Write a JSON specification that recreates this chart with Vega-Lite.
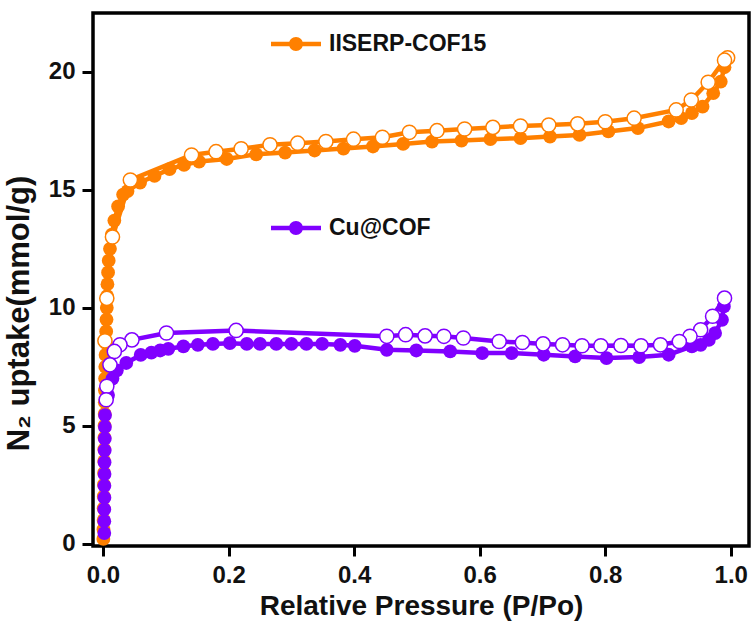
{
  "$schema": "https://vega.github.io/schema/vega-lite/v6.json",
  "width": 656,
  "height": 533,
  "autosize": {"type": "none"},
  "padding": {"left": 93, "top": 13, "right": 5, "bottom": 83},
  "background": "white",
  "config": {
    "font": "Liberation Sans",
    "view": {"stroke": "#000", "strokeWidth": 3.5},
    "axis": {
      "domain": false,
      "grid": false,
      "tickColor": "#000",
      "tickWidth": 3,
      "labelFont": "Liberation Sans",
      "labelFontWeight": "bold",
      "labelFontSize": 24,
      "labelColor": "#111",
      "titleFont": "Liberation Sans",
      "titleFontWeight": "bold",
      "titleColor": "#111"
    }
  },
  "data": {
    "values": [
      {"s":"IISERP-COF15","b":"ads","i":1,"x":0.0005,"y":0.2},
      {"s":"IISERP-COF15","b":"ads","i":2,"x":0.0007,"y":0.6},
      {"s":"IISERP-COF15","b":"ads","i":3,"x":0.0009,"y":1.0},
      {"s":"IISERP-COF15","b":"ads","i":4,"x":0.001,"y":1.5},
      {"s":"IISERP-COF15","b":"ads","i":5,"x":0.0012,"y":2.0},
      {"s":"IISERP-COF15","b":"ads","i":6,"x":0.0014,"y":2.5},
      {"s":"IISERP-COF15","b":"ads","i":7,"x":0.0016,"y":3.0},
      {"s":"IISERP-COF15","b":"ads","i":8,"x":0.0018,"y":3.5},
      {"s":"IISERP-COF15","b":"ads","i":9,"x":0.002,"y":4.0},
      {"s":"IISERP-COF15","b":"ads","i":10,"x":0.0022,"y":4.5},
      {"s":"IISERP-COF15","b":"ads","i":11,"x":0.0024,"y":5.0},
      {"s":"IISERP-COF15","b":"ads","i":12,"x":0.0026,"y":5.5},
      {"s":"IISERP-COF15","b":"ads","i":13,"x":0.0028,"y":6.0},
      {"s":"IISERP-COF15","b":"ads","i":14,"x":0.003,"y":6.5},
      {"s":"IISERP-COF15","b":"ads","i":15,"x":0.0033,"y":7.0},
      {"s":"IISERP-COF15","b":"ads","i":16,"x":0.0036,"y":7.5},
      {"s":"IISERP-COF15","b":"ads","i":17,"x":0.004,"y":8.0},
      {"s":"IISERP-COF15","b":"ads","i":18,"x":0.0045,"y":8.5},
      {"s":"IISERP-COF15","b":"ads","i":19,"x":0.005,"y":9.0},
      {"s":"IISERP-COF15","b":"ads","i":20,"x":0.0055,"y":9.5},
      {"s":"IISERP-COF15","b":"ads","i":21,"x":0.006,"y":10.0},
      {"s":"IISERP-COF15","b":"ads","i":22,"x":0.0065,"y":10.5},
      {"s":"IISERP-COF15","b":"ads","i":23,"x":0.007,"y":11.0},
      {"s":"IISERP-COF15","b":"ads","i":24,"x":0.008,"y":11.5},
      {"s":"IISERP-COF15","b":"ads","i":25,"x":0.009,"y":12.0},
      {"s":"IISERP-COF15","b":"ads","i":26,"x":0.011,"y":12.5},
      {"s":"IISERP-COF15","b":"ads","i":27,"x":0.014,"y":13.1},
      {"s":"IISERP-COF15","b":"ads","i":28,"x":0.018,"y":13.7},
      {"s":"IISERP-COF15","b":"ads","i":29,"x":0.024,"y":14.3},
      {"s":"IISERP-COF15","b":"ads","i":30,"x":0.032,"y":14.8},
      {"s":"IISERP-COF15","b":"ads","i":31,"x":0.039,"y":14.95},
      {"s":"IISERP-COF15","b":"ads","i":32,"x":0.059,"y":15.31},
      {"s":"IISERP-COF15","b":"ads","i":33,"x":0.082,"y":15.59},
      {"s":"IISERP-COF15","b":"ads","i":34,"x":0.106,"y":15.88},
      {"s":"IISERP-COF15","b":"ads","i":35,"x":0.129,"y":16.06},
      {"s":"IISERP-COF15","b":"ads","i":36,"x":0.153,"y":16.2},
      {"s":"IISERP-COF15","b":"ads","i":37,"x":0.197,"y":16.31},
      {"s":"IISERP-COF15","b":"ads","i":38,"x":0.244,"y":16.51},
      {"s":"IISERP-COF15","b":"ads","i":39,"x":0.29,"y":16.58},
      {"s":"IISERP-COF15","b":"ads","i":40,"x":0.337,"y":16.67},
      {"s":"IISERP-COF15","b":"ads","i":41,"x":0.383,"y":16.75},
      {"s":"IISERP-COF15","b":"ads","i":42,"x":0.43,"y":16.84},
      {"s":"IISERP-COF15","b":"ads","i":43,"x":0.478,"y":16.95},
      {"s":"IISERP-COF15","b":"ads","i":44,"x":0.524,"y":17.05},
      {"s":"IISERP-COF15","b":"ads","i":45,"x":0.571,"y":17.09},
      {"s":"IISERP-COF15","b":"ads","i":46,"x":0.617,"y":17.15},
      {"s":"IISERP-COF15","b":"ads","i":47,"x":0.665,"y":17.19},
      {"s":"IISERP-COF15","b":"ads","i":48,"x":0.712,"y":17.26},
      {"s":"IISERP-COF15","b":"ads","i":49,"x":0.759,"y":17.33},
      {"s":"IISERP-COF15","b":"ads","i":50,"x":0.805,"y":17.48},
      {"s":"IISERP-COF15","b":"ads","i":51,"x":0.852,"y":17.62},
      {"s":"IISERP-COF15","b":"ads","i":52,"x":0.901,"y":17.9},
      {"s":"IISERP-COF15","b":"ads","i":53,"x":0.921,"y":18.04},
      {"s":"IISERP-COF15","b":"ads","i":54,"x":0.938,"y":18.25},
      {"s":"IISERP-COF15","b":"ads","i":55,"x":0.955,"y":18.53},
      {"s":"IISERP-COF15","b":"ads","i":56,"x":0.972,"y":19.1},
      {"s":"IISERP-COF15","b":"ads","i":57,"x":0.984,"y":19.59},
      {"s":"IISERP-COF15","b":"ads","i":58,"x":0.99,"y":20.2},
      {"s":"IISERP-COF15","b":"des","i":1,"x":0.995,"y":20.6},
      {"s":"IISERP-COF15","b":"des","i":2,"x":0.99,"y":20.5},
      {"s":"IISERP-COF15","b":"des","i":3,"x":0.964,"y":19.56},
      {"s":"IISERP-COF15","b":"des","i":4,"x":0.937,"y":18.81},
      {"s":"IISERP-COF15","b":"des","i":5,"x":0.913,"y":18.39},
      {"s":"IISERP-COF15","b":"des","i":6,"x":0.846,"y":18.04},
      {"s":"IISERP-COF15","b":"des","i":7,"x":0.8,"y":17.89},
      {"s":"IISERP-COF15","b":"des","i":8,"x":0.756,"y":17.8},
      {"s":"IISERP-COF15","b":"des","i":9,"x":0.71,"y":17.75},
      {"s":"IISERP-COF15","b":"des","i":10,"x":0.665,"y":17.71},
      {"s":"IISERP-COF15","b":"des","i":11,"x":0.621,"y":17.65},
      {"s":"IISERP-COF15","b":"des","i":12,"x":0.576,"y":17.58},
      {"s":"IISERP-COF15","b":"des","i":13,"x":0.532,"y":17.51},
      {"s":"IISERP-COF15","b":"des","i":14,"x":0.488,"y":17.44},
      {"s":"IISERP-COF15","b":"des","i":15,"x":0.445,"y":17.23},
      {"s":"IISERP-COF15","b":"des","i":16,"x":0.399,"y":17.15},
      {"s":"IISERP-COF15","b":"des","i":17,"x":0.355,"y":17.05},
      {"s":"IISERP-COF15","b":"des","i":18,"x":0.31,"y":16.98},
      {"s":"IISERP-COF15","b":"des","i":19,"x":0.266,"y":16.91},
      {"s":"IISERP-COF15","b":"des","i":20,"x":0.22,"y":16.74},
      {"s":"IISERP-COF15","b":"des","i":21,"x":0.18,"y":16.62},
      {"s":"IISERP-COF15","b":"des","i":22,"x":0.141,"y":16.48},
      {"s":"IISERP-COF15","b":"des","i":23,"x":0.0435,"y":15.42},
      {"s":"IISERP-COF15","b":"des","i":24,"x":0.015,"y":13.0},
      {"s":"IISERP-COF15","b":"des","i":25,"x":0.006,"y":10.4},
      {"s":"IISERP-COF15","b":"des","i":26,"x":0.003,"y":8.6},
      {"s":"Cu@COF","b":"ads","i":1,"x":0.002,"y":0.45},
      {"s":"Cu@COF","b":"ads","i":2,"x":0.002,"y":0.95},
      {"s":"Cu@COF","b":"ads","i":3,"x":0.002,"y":1.45},
      {"s":"Cu@COF","b":"ads","i":4,"x":0.0022,"y":1.95},
      {"s":"Cu@COF","b":"ads","i":5,"x":0.0022,"y":2.45},
      {"s":"Cu@COF","b":"ads","i":6,"x":0.0024,"y":2.95},
      {"s":"Cu@COF","b":"ads","i":7,"x":0.0024,"y":3.45},
      {"s":"Cu@COF","b":"ads","i":8,"x":0.0026,"y":3.95},
      {"s":"Cu@COF","b":"ads","i":9,"x":0.0028,"y":4.45},
      {"s":"Cu@COF","b":"ads","i":10,"x":0.003,"y":4.95},
      {"s":"Cu@COF","b":"ads","i":11,"x":0.0032,"y":5.45},
      {"s":"Cu@COF","b":"ads","i":12,"x":0.008,"y":6.3},
      {"s":"Cu@COF","b":"ads","i":13,"x":0.015,"y":7.0},
      {"s":"Cu@COF","b":"ads","i":14,"x":0.022,"y":7.35},
      {"s":"Cu@COF","b":"ads","i":15,"x":0.037,"y":7.66},
      {"s":"Cu@COF","b":"ads","i":16,"x":0.06,"y":8.0},
      {"s":"Cu@COF","b":"ads","i":17,"x":0.077,"y":8.1},
      {"s":"Cu@COF","b":"ads","i":18,"x":0.091,"y":8.19},
      {"s":"Cu@COF","b":"ads","i":19,"x":0.104,"y":8.26},
      {"s":"Cu@COF","b":"ads","i":20,"x":0.128,"y":8.36},
      {"s":"Cu@COF","b":"ads","i":21,"x":0.151,"y":8.43},
      {"s":"Cu@COF","b":"ads","i":22,"x":0.175,"y":8.47},
      {"s":"Cu@COF","b":"ads","i":23,"x":0.202,"y":8.5},
      {"s":"Cu@COF","b":"ads","i":24,"x":0.229,"y":8.47},
      {"s":"Cu@COF","b":"ads","i":25,"x":0.25,"y":8.47},
      {"s":"Cu@COF","b":"ads","i":26,"x":0.276,"y":8.47},
      {"s":"Cu@COF","b":"ads","i":27,"x":0.3,"y":8.47},
      {"s":"Cu@COF","b":"ads","i":28,"x":0.324,"y":8.47},
      {"s":"Cu@COF","b":"ads","i":29,"x":0.349,"y":8.47},
      {"s":"Cu@COF","b":"ads","i":30,"x":0.378,"y":8.43},
      {"s":"Cu@COF","b":"ads","i":31,"x":0.401,"y":8.39},
      {"s":"Cu@COF","b":"ads","i":32,"x":0.452,"y":8.22},
      {"s":"Cu@COF","b":"ads","i":33,"x":0.499,"y":8.19},
      {"s":"Cu@COF","b":"ads","i":34,"x":0.553,"y":8.15},
      {"s":"Cu@COF","b":"ads","i":35,"x":0.604,"y":8.08},
      {"s":"Cu@COF","b":"ads","i":36,"x":0.651,"y":8.08},
      {"s":"Cu@COF","b":"ads","i":37,"x":0.702,"y":8.01},
      {"s":"Cu@COF","b":"ads","i":38,"x":0.752,"y":7.94},
      {"s":"Cu@COF","b":"ads","i":39,"x":0.802,"y":7.87},
      {"s":"Cu@COF","b":"ads","i":40,"x":0.854,"y":7.91},
      {"s":"Cu@COF","b":"ads","i":41,"x":0.901,"y":8.01},
      {"s":"Cu@COF","b":"ads","i":42,"x":0.938,"y":8.36},
      {"s":"Cu@COF","b":"ads","i":43,"x":0.952,"y":8.43},
      {"s":"Cu@COF","b":"ads","i":44,"x":0.965,"y":8.64},
      {"s":"Cu@COF","b":"ads","i":45,"x":0.975,"y":8.93},
      {"s":"Cu@COF","b":"ads","i":46,"x":0.986,"y":9.49},
      {"s":"Cu@COF","b":"ads","i":47,"x":0.989,"y":10.06},
      {"s":"Cu@COF","b":"des","i":1,"x":0.99,"y":10.41},
      {"s":"Cu@COF","b":"des","i":2,"x":0.971,"y":9.64},
      {"s":"Cu@COF","b":"des","i":3,"x":0.952,"y":9.07},
      {"s":"Cu@COF","b":"des","i":4,"x":0.935,"y":8.79},
      {"s":"Cu@COF","b":"des","i":5,"x":0.918,"y":8.57},
      {"s":"Cu@COF","b":"des","i":6,"x":0.888,"y":8.43},
      {"s":"Cu@COF","b":"des","i":7,"x":0.857,"y":8.39},
      {"s":"Cu@COF","b":"des","i":8,"x":0.825,"y":8.4},
      {"s":"Cu@COF","b":"des","i":9,"x":0.793,"y":8.39},
      {"s":"Cu@COF","b":"des","i":10,"x":0.763,"y":8.39},
      {"s":"Cu@COF","b":"des","i":11,"x":0.732,"y":8.43},
      {"s":"Cu@COF","b":"des","i":12,"x":0.701,"y":8.47},
      {"s":"Cu@COF","b":"des","i":13,"x":0.668,"y":8.53},
      {"s":"Cu@COF","b":"des","i":14,"x":0.631,"y":8.57},
      {"s":"Cu@COF","b":"des","i":15,"x":0.574,"y":8.72},
      {"s":"Cu@COF","b":"des","i":16,"x":0.543,"y":8.79},
      {"s":"Cu@COF","b":"des","i":17,"x":0.513,"y":8.81},
      {"s":"Cu@COF","b":"des","i":18,"x":0.482,"y":8.86},
      {"s":"Cu@COF","b":"des","i":19,"x":0.452,"y":8.79},
      {"s":"Cu@COF","b":"des","i":20,"x":0.212,"y":9.04},
      {"s":"Cu@COF","b":"des","i":21,"x":0.101,"y":8.93},
      {"s":"Cu@COF","b":"des","i":22,"x":0.046,"y":8.64},
      {"s":"Cu@COF","b":"des","i":23,"x":0.027,"y":8.43},
      {"s":"Cu@COF","b":"des","i":24,"x":0.018,"y":8.15},
      {"s":"Cu@COF","b":"des","i":25,"x":0.011,"y":7.58},
      {"s":"Cu@COF","b":"des","i":26,"x":0.006,"y":6.67},
      {"s":"Cu@COF","b":"des","i":27,"x":0.005,"y":6.1}
    ]
  },
  "encoding": {
    "x": {
      "field": "x", "type": "quantitative",
      "scale": {"domain": [-0.016, 1.029], "nice": false, "zero": false},
      "axis": {
        "title": "Relative Pressure (P/Po)",
        "titleFontSize": 28,
        "titlePadding": 5,
        "values": [0, 0.2, 0.4, 0.6, 0.8, 1.0],
        "format": ".1f",
        "tickSize": 10,
        "labelPadding": 7
      }
    },
    "y": {
      "field": "y", "type": "quantitative",
      "scale": {"domain": [-0.1, 22.5], "nice": false, "zero": false},
      "axis": {
        "title": "N₂ uptake(mmol/g)",
        "titleFontSize": 31,
        "titleY": 300,
        "titleX": -58,
        "values": [0, 5, 10, 15, 20],
        "tickSize": 11,
        "labelPadding": 7
      }
    },
    "color": {
      "field": "s", "type": "nominal",
      "scale": {"domain": ["IISERP-COF15", "Cu@COF"], "range": ["#FF8000", "#8000FF"]},
      "legend": {
        "orient": "none",
        "legendX": 178,
        "legendY": 6,
        "title": null,
        "symbolType": "M-1,-0.09H-0.27V0.09H-1Z M0.27,-0.09H1V0.09H0.27Z M0.28,0A0.28,0.28,0,1,1,-0.28,0A0.28,0.28,0,1,1,0.28,0Z",
        "symbolSize": 2500,
        "symbolStrokeWidth": 0,
        "labelFontSize": 23,
        "labelFontWeight": "bold",
        "labelColor": "#111",
        "labelOffset": 8,
        "rowPadding": 147,
        "encode": {
          "symbols": {"update": {"fill": {"scale": "color", "field": "value"}, "stroke": {"value": "transparent"}, "opacity": {"value": 1}}}
        }
      }
    }
  },
  "layer": [
    {
      "mark": {"type": "line", "strokeWidth": 4.5},
      "encoding": {"detail": {"field": "b"}, "order": {"field": "i", "type": "quantitative"}}
    },
    {
      "transform": [{"filter": "datum.b == 'ads'"}],
      "mark": {"type": "point", "filled": true, "opacity": 1, "size": 190}
    },
    {
      "transform": [{"filter": "datum.b == 'des'"}],
      "mark": {"type": "point", "filled": false, "fill": "white", "opacity": 1, "strokeWidth": 1.5, "size": 200}
    }
  ]
}
